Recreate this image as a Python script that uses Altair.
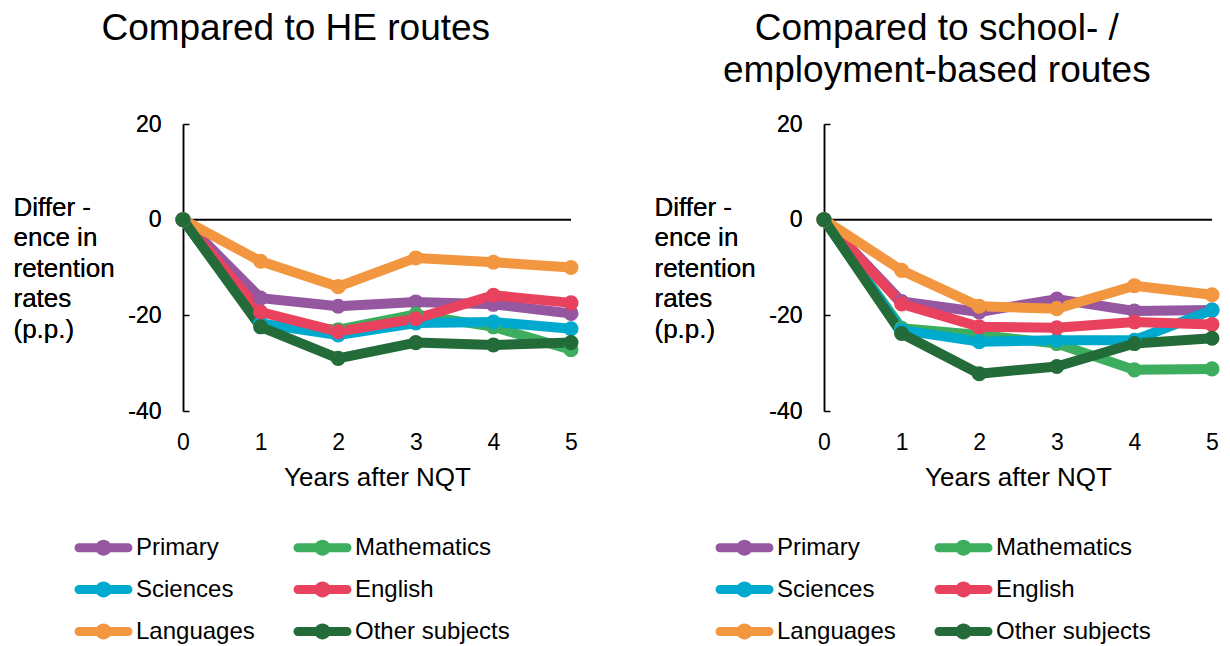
import altair as alt
import pandas as pd

years = [0, 1, 2, 3, 4, 5]
subjects = ["Primary", "Mathematics", "Sciences", "English", "Languages", "Other subjects"]
colors = ["#9457A0", "#3DAE5E", "#00A9CE", "#E8425F", "#F39640", "#246B3A"]
# legend lists entries column by column: this order gives two rows-first columns
legend_order = ["Primary", "Sciences", "Languages", "Mathematics", "English", "Other subjects"]

he_primary = [0, -16.4, -18.1, -17.2, -17.7, -19.6]
he_maths = [0, -22.0, -23.0, -19.8, -22.4, -27.2]
he_sciences = [0, -21.7, -24.1, -21.6, -21.4, -22.8]
he_english = [0, -19.3, -23.4, -20.7, -15.8, -17.4]
he_languages = [0, -8.7, -14.0, -8.0, -8.9, -10.0]
he_other = [0, -22.4, -29.0, -25.7, -26.2, -25.7]

se_primary = [0, -17.1, -19.3, -16.6, -19.1, -18.9]
se_maths = [0, -22.7, -24.1, -25.9, -31.4, -31.2]
se_sciences = [0, -23.1, -25.5, -25.2, -25.2, -18.9]
se_english = [0, -17.6, -22.4, -22.6, -21.4, -21.9]
se_languages = [0, -10.6, -18.1, -18.6, -13.8, -15.7]
se_other = [0, -23.8, -32.2, -30.7, -25.9, -24.8]

y_ticks = [-40, -20, 0, 20]
y_title = ["Differ -", "ence in", "retention", "rates", "(p.p.)"]
x_title = "Years after NQT"
title_he = "Compared to HE routes"
title_se = ["Compared to school- /", "employment-based routes"]

W, H = 388, 287
FONT = "Liberation Sans"
LEGEND_PATH = ("M-1.69,-0.31L1.69,-0.31A0.31,0.31,0,0,1,1.69,0.31"
               "L-1.69,0.31A0.31,0.31,0,0,1,-1.69,-0.31Z"
               "M-0.55,0A0.55,0.55,0,1,1,0.55,0A0.55,0.55,0,1,1,-0.55,0Z")

color_map = dict(zip(subjects, colors))
legend_colors = [color_map[s] for s in legend_order]


def panel(series, title_text, title_offset):
    rows = []
    for s, vals in zip(subjects, series):
        for yr, v in zip(years, vals):
            rows.append({"Subject": s, "Year": yr, "Diff": v})
    df = pd.DataFrame(rows)

    x_axis = alt.Axis(values=years, title=x_title, domain=False, ticks=False, grid=False,
                      labelPadding=20, titlePadding=10, labelFontSize=23, titleFontSize=26,
                      titleFontWeight="normal", labelColor="black", titleColor="black",
                      labelFlush=False, labelExpr="toString(datum.value)")
    x_scale = alt.Scale(domain=[0, 5], nice=False, zero=False)
    y_scale = alt.Scale(domain=[-40, 20], nice=False, zero=False)
    y_axis = alt.Axis(values=y_ticks, title=y_title, titleAngle=0, titleAlign="left",
                      titleBaseline="top", titleX=-170, titleY=70, titleLineHeight=30.5,
                      titleFontSize=26, titleFontWeight="normal", titleColor="black",
                      labelFontSize=23, labelPadding=22, labelColor="black",
                      labelExpr="toString(datum.value)", labelFlush=False,
                      ticks=False, tickSize=0, grid=False, domainColor="black", domainWidth=1.5)
    tick_axis = alt.Axis(values=y_ticks, orient="right", offset=-W, labels=False, domain=False,
                         ticks=True, tickSize=6, tickColor="black", tickWidth=1.5, grid=False,
                         title=None)

    zero_df = pd.DataFrame({"Year": [0], "Year2": [5], "Diff": [0]})
    zero = alt.Chart(zero_df).mark_rule(color="black", strokeWidth=2).encode(
        x=alt.X("Year:Q", scale=x_scale, axis=x_axis),
        x2="Year2:Q",
        y=alt.Y("Diff:Q", scale=y_scale, axis=tick_axis),
    )

    stroke_enc = alt.Stroke("Subject:N", scale=alt.Scale(domain=subjects, range=colors), legend=None)
    color_legend = alt.Color(
        "Subject:N", scale=alt.Scale(domain=legend_order, range=legend_colors),
        legend=alt.Legend(orient="none", legendX=-94, legendY=409, columns=2, title=None,
                          labelFontSize=24, labelColor="black", symbolType=LEGEND_PATH,
                          symbolSize=841, symbolStrokeWidth=0, labelOffset=18,
                          rowPadding=15, columnPadding=38, padding=0, symbolOpacity=1),
    )

    lines = alt.Chart(df).mark_line(strokeWidth=10, strokeJoin="round").encode(
        x=alt.X("Year:Q", scale=x_scale, axis=x_axis),
        y=alt.Y("Diff:Q", scale=y_scale, axis=y_axis),
        stroke=stroke_enc,
        detail="Subject:N",
    )
    points = alt.Chart(df).mark_point(filled=True, size=227, opacity=1, strokeWidth=0).encode(
        x=alt.X("Year:Q", scale=x_scale, axis=x_axis),
        y=alt.Y("Diff:Q", scale=y_scale, axis=y_axis),
        color=color_legend,
    )
    return alt.layer(zero, lines, points).resolve_axis(y="independent").properties(
        width=W, height=H,
        title=alt.TitleParams(text=title_text, fontSize=37, fontWeight="normal", anchor="middle",
                              frame="bounds", offset=title_offset, lineHeight=42,
                              color="black", font=FONT),
    )


left = panel([he_primary, he_maths, he_sciences, he_english, he_languages, he_other], title_he, 65)
right = panel([se_primary, se_maths, se_sciences, se_english, se_languages, se_other], title_se, 23)

chart = alt.hconcat(left, right, spacing=75).resolve_legend(color="independent").properties(
    padding={"left": 5, "top": 2, "right": 0, "bottom": 0}
).configure(font=FONT).configure_view(stroke=None)

chart.save("out.html", embed_options={"renderer": "svg", "actions": False})
